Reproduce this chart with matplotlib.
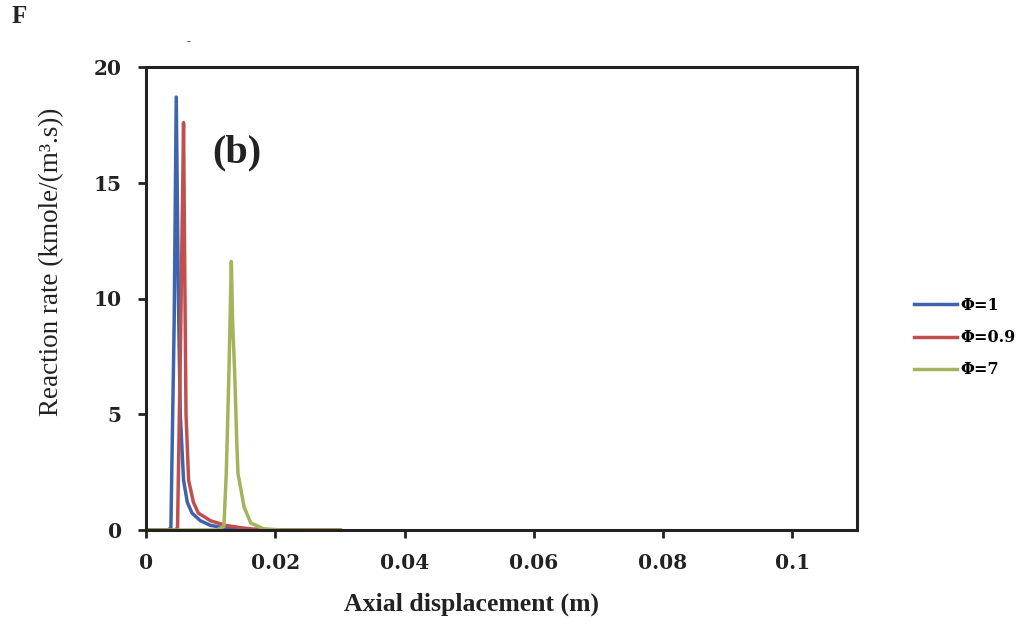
import matplotlib
matplotlib.use("Agg")
import matplotlib.pyplot as plt

# axial displacement (m) and reaction rate (kmole/(m3.s))
x_phi1 = [0.0, 0.00343, 0.00385, 0.00436, 0.00468, 0.00499, 0.0053, 0.00581, 0.00639,
          0.00712, 0.00842, 0.00998, 0.0123, 0.0162, 0.0200, 0.0300]
y_phi1 = [0.0, 0.0, 0.1, 9.0, 18.7, 10.5, 5.0, 2.15, 1.2,
          0.73, 0.4, 0.2, 0.08, 0.02, 0.0, 0.0]

x_phi09 = [0.0, 0.00452, 0.00488, 0.00538, 0.00581, 0.0060, 0.00619, 0.00659, 0.00733,
           0.0081, 0.00998, 0.0123, 0.01465, 0.01652, 0.0193, 0.0300]
y_phi09 = [0.0, 0.0, 0.1, 8.8, 17.6, 11.0, 5.0, 2.15, 1.2,
           0.73, 0.4, 0.2, 0.1, 0.04, 0.01, 0.0]

x_phi7 = [0.0, 0.0109, 0.01205, 0.01242, 0.01283, 0.0132, 0.0134, 0.01372, 0.01403,
          0.01423, 0.01517, 0.01621, 0.01824, 0.0210, 0.0300]
y_phi7 = [0.0, 0.0, 0.15, 2.44, 6.8, 11.6, 9.0, 6.8, 3.9,
          2.44, 1.0, 0.3, 0.05, 0.0, 0.0]

labels = ["\u03a6=1", "\u03a6=0.9", "\u03a6=7"]
colors = ["#3f63ad", "#c0504d", "#a6b35c"]
xticks = [0, 0.02, 0.04, 0.06, 0.08, 0.1]
xtick_labels = ["0", "0.02", "0.04", "0.06", "0.08", "0.1"]
yticks = [0, 5, 10, 15, 20]

plt.rcParams["font.family"] = ["Liberation Serif", "DejaVu Serif"]
ink = "#222222"

fig = plt.figure(figsize=(10.29, 6.28), dpi=100)
# axes box: x 146..857 px, y 67..530 px
ax = fig.add_axes([146 / 1029, 1 - 530 / 628, 711 / 1029, 463 / 628])

for xs, ys, lab, c in zip([x_phi1, x_phi09, x_phi7], [y_phi1, y_phi09, y_phi7], labels, colors):
    ax.plot(xs, ys, color=c, linewidth=2.5, label=lab)

ax.set_xlim(0, 0.11)
ax.set_ylim(0, 20)
ax.set_xticks(xticks)
ax.set_xticklabels(xtick_labels)
ax.set_yticks(yticks)

for sp in ax.spines.values():
    sp.set_linewidth(2.2)
    sp.set_color(ink)

ax.tick_params(direction="out", length=5.5, width=2, colors=ink)
ax.tick_params(axis="x", pad=11)
ax.tick_params(axis="y", pad=12)
for t in ax.get_xticklabels() + ax.get_yticklabels():
    t.set_family("DejaVu Serif")
    t.set_fontsize(14.5)
    t.set_fontweight("bold")
    t.set_color(ink)

ax.set_xlabel("Axial displacement (m)", fontsize=18.5, fontweight="bold", color=ink)
ax.xaxis.set_label_coords((471 - 146) / 711, -(593 - 530) / 463)
ax.set_ylabel("Reaction rate (kmole/(m\u00b3.s))", fontsize=19.5, color=ink)
ax.yaxis.set_label_coords(-(146 - 64) / 711, (530 - 262) / 463)

ax.text((237 - 146) / 711, (530 - 153) / 463, "(b)", transform=ax.transAxes,
        fontsize=29, fontweight="bold", ha="center", va="center", color=ink)

fig.text(19.5 / 1029, 1 - 16.5 / 628, "F", fontsize=18, fontweight="bold",
         ha="center", va="center", color=ink)
fig.text(188 / 1029, 1 - 42 / 628, "-", fontsize=8, ha="center", va="center", color=ink)

ax.legend(loc="upper left", bbox_to_anchor=(914 / 1029, 1 - 297 / 628),
          bbox_transform=fig.transFigure, frameon=False, borderpad=0, borderaxespad=0,
          handlelength=2.7, handletextpad=0.2, labelspacing=0.95,
          prop={"family": "DejaVu Serif", "weight": "bold", "size": 11.5})

fig.savefig("out.png", dpi=100)
